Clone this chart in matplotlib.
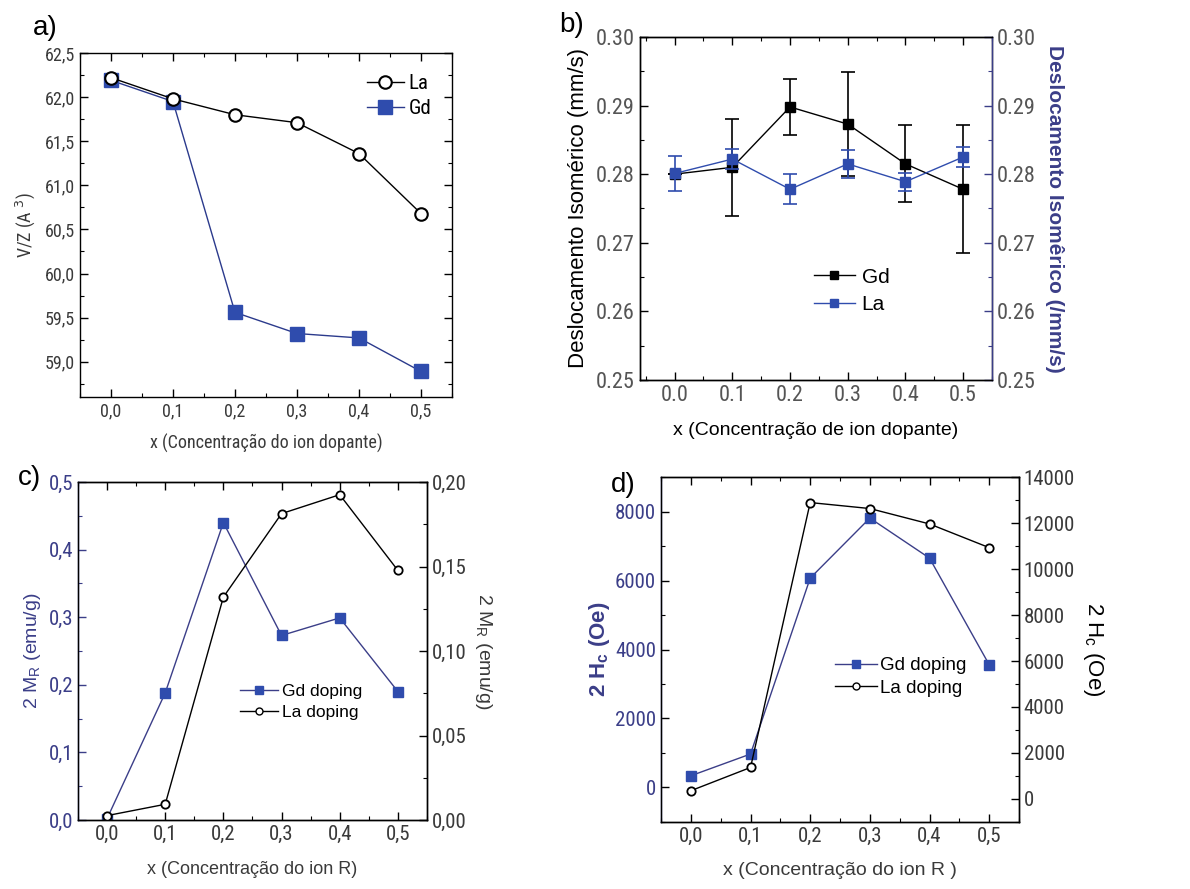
import matplotlib
matplotlib.use("Agg")
import matplotlib.pyplot as plt
from matplotlib import font_manager
from matplotlib.ticker import FuncFormatter, MultipleLocator
from matplotlib.lines import Line2D

# ---------------- data ----------------
x_conc = [0.0, 0.1, 0.2, 0.3, 0.4, 0.5]

# (a) volume per formula unit
vz_la = [62.22, 61.98, 61.80, 61.71, 61.36, 60.68]
vz_gd = [62.19, 61.95, 59.56, 59.32, 59.27, 58.89]

# (b) isomer shift with error bars
is_gd = [0.2800, 0.2810, 0.2898, 0.2873, 0.2815, 0.2778]
is_gd_err = [0.0000, 0.0071, 0.0041, 0.0076, 0.0056, 0.0093]
is_la = [0.2801, 0.2822, 0.2778, 0.2815, 0.2789, 0.2825]
is_la_err = [0.0026, 0.0014, 0.0022, 0.0020, 0.0013, 0.0015]

# (c) remanent magnetisation
mr_gd = [0.002, 0.188, 0.440, 0.273, 0.299, 0.190]
mr_la = [0.0026, 0.0093, 0.1319, 0.1813, 0.1925, 0.1477]

# (d) coercive field
hc_gd = [340, 970, 6070, 7810, 6650, 3560]
hc_la = [360, 1370, 12890, 12630, 11960, 10930]

# ---------------- style ----------------
installed = {f.name for f in font_manager.fontManager.ttflist}
narrow_choices = [n for n in ("Liberation Sans Narrow", "Roboto Condensed",
                              "DejaVu Sans Condensed") if n in installed]
NARROW_FAMILY = narrow_choices[0] if narrow_choices else "DejaVu Sans"
NARROW = dict(family=[NARROW_FAMILY, "DejaVu Sans"], stretch="condensed")
SANS = ["Liberation Sans", "DejaVu Sans"]
BLUE = "#2f4cad"
NAVY = "#3b3e88"
GRAY = "#3a3a3a"
LGRAY = "#555555"

plt.rcParams["font.family"] = SANS
plt.rcParams["axes.linewidth"] = 1.0

comma1 = FuncFormatter(lambda v, p: f"{v:.1f}".replace(".", ","))
comma2 = FuncFormatter(lambda v, p: f"{v:.2f}".replace(".", ","))
dot1 = FuncFormatter(lambda v, p: f"{v:.1f}")
dot2 = FuncFormatter(lambda v, p: f"{v:.2f}")
intf = FuncFormatter(lambda v, p: f"{int(round(v))}")


def style_ticks(ax, size, color, top=True, right=True, left=True):
    ax.tick_params(which="both", direction="in", top=top, right=right, left=left)
    ax.tick_params(which="major", length=6, width=1.0, labelsize=size, labelcolor=color)
    ax.tick_params(which="minor", length=3, width=0.8)


def narrow_ticklabels(ax):
    fig.canvas.draw()
    for lab in ax.get_xticklabels() + ax.get_yticklabels():
        lab.set_family(NARROW["family"])
        lab.set_stretch(NARROW["stretch"])


fig = plt.figure(figsize=(11.9, 8.89), dpi=100)

# ================= (a) =================
axa = fig.add_axes([0.0672, 0.5534, 0.3126, 0.3870])
axa.plot(x_conc, vz_la, "-o", color="black", lw=1.0, ms=9, mfc="white",
         mec="black", mew=1.5, label="La", zorder=3)
axa.plot(x_conc, vz_gd, "-s", color="#2b3a8c", lw=1.0, ms=10, mfc=BLUE,
         mec=BLUE, label="Gd", zorder=2)
axa.set_xlim(-0.05, 0.55)
axa.set_ylim(58.6, 62.5)
axa.xaxis.set_major_locator(MultipleLocator(0.1))
axa.xaxis.set_minor_locator(MultipleLocator(0.05))
axa.yaxis.set_major_locator(MultipleLocator(0.5))
axa.yaxis.set_minor_locator(MultipleLocator(0.25))
axa.xaxis.set_major_formatter(comma1)
axa.yaxis.set_major_formatter(comma1)
style_ticks(axa, 13, GRAY)
axa.set_xlabel("x (Concentração do ion dopante)", fontsize=13, color=GRAY,
               labelpad=10, **NARROW)
axa.set_ylabel("V/Z (A $^{3}$)", fontsize=13, color=GRAY, labelpad=6, **NARROW)
axa.legend(loc="upper right", frameon=False,
           prop={"family": NARROW["family"], "stretch": "condensed", "size": 15},
           handlelength=1.8, handletextpad=0.2, borderaxespad=0.6, labelspacing=0.3)
fig.text(0.028, 0.968, "a)", fontsize=20, va="center", ha="left")

# ================= (b) =================
axb = fig.add_axes([0.5378, 0.5726, 0.2958, 0.3858])
axb2 = axb.twinx()
axb.errorbar(x_conc, is_gd, yerr=is_gd_err, fmt="-s", color="black", lw=1.0,
             ms=7, elinewidth=1.2, capsize=5, capthick=1.2, zorder=3)
axb2.errorbar(x_conc, is_la, yerr=is_la_err, fmt="-s", color=BLUE, ecolor=BLUE,
              lw=1.0, ms=7, elinewidth=1.2, capsize=5, capthick=1.2, zorder=3)
for ax in (axb, axb2):
    ax.set_xlim(-0.06, 0.55)
    ax.set_ylim(0.25, 0.30)
    ax.yaxis.set_major_locator(MultipleLocator(0.01))
    ax.yaxis.set_minor_locator(MultipleLocator(0.005))
    ax.yaxis.set_major_formatter(dot2)
axb.xaxis.set_major_locator(MultipleLocator(0.1))
axb.xaxis.set_minor_locator(MultipleLocator(0.05))
axb.xaxis.set_major_formatter(dot1)
style_ticks(axb, 16, LGRAY, right=False)
style_ticks(axb2, 16, LGRAY, top=False, left=False)
axb2.spines["right"].set_color(NAVY)
axb2.tick_params(axis="y", which="both", color=NAVY)
axb.set_xlabel("x (Concentração de ion dopante)", fontsize=14, labelpad=12)
axb.set_ylabel("Deslocamento Isomérico (mm/s)", fontsize=16, labelpad=5)
axb2.set_ylabel("Deslocamento Isomêrico (/mm/s)", fontsize=15, color=NAVY,
                fontweight="bold", rotation=270, labelpad=20)
hb = [Line2D([], [], color="black", marker="s", ms=6, lw=1.0),
      Line2D([], [], color=BLUE, marker="s", ms=6, lw=1.0)]
axb.legend(hb, ["Gd", "La"], loc="center left", bbox_to_anchor=(0.44, 0.26),
           frameon=False, fontsize=15, handlelength=2.0, handletextpad=0.3,
           labelspacing=0.4)
fig.text(0.470, 0.972, "b)", fontsize=20, va="center", ha="left")

# ================= (c) =================
axc = fig.add_axes([0.0655, 0.0776, 0.2933, 0.3802])
axc2 = axc.twinx()
axc.plot(x_conc, mr_gd, "-s", color=NAVY, lw=1.0, ms=7, mfc=BLUE, mec=BLUE, zorder=2)
axc2.plot(x_conc, mr_la, "-o", color="black", lw=1.0, ms=6, mfc="white",
          mec="black", mew=1.3, zorder=3)
axc.set_xlim(-0.05, 0.55)
axc.set_ylim(0.0, 0.5)
axc2.set_ylim(0.0, 0.20)
axc.xaxis.set_major_locator(MultipleLocator(0.1))
axc.xaxis.set_minor_locator(MultipleLocator(0.05))
axc.yaxis.set_major_locator(MultipleLocator(0.1))
axc.yaxis.set_minor_locator(MultipleLocator(0.05))
axc2.yaxis.set_major_locator(MultipleLocator(0.05))
axc2.yaxis.set_minor_locator(MultipleLocator(0.025))
axc.xaxis.set_major_formatter(comma1)
axc.yaxis.set_major_formatter(comma1)
axc2.yaxis.set_major_formatter(comma2)
style_ticks(axc, 15, NAVY, right=False)
style_ticks(axc2, 15, GRAY, top=False, left=False)
axc.tick_params(axis="x", labelcolor=GRAY)
axc.spines["left"].set_color(NAVY)
axc.tick_params(axis="y", which="both", color=NAVY)
axc.set_xlabel("x (Concentração do ion R)", fontsize=13, color=GRAY, labelpad=12)
axc.set_ylabel("2 M$_{\\mathregular{R}}$ (emu/g)", fontsize=14, color=NAVY, labelpad=4)
axc2.set_ylabel("2 M$_{\\mathregular{R}}$ (emu/g)", fontsize=14, color=GRAY,
                rotation=270, labelpad=20)
hc = [Line2D([], [], color=NAVY, marker="s", ms=6, mfc=BLUE, mec=BLUE, lw=1.0),
      Line2D([], [], color="black", marker="o", ms=5, mfc="white", mec="black", lw=1.0)]
axc.legend(hc, ["Gd doping", "La doping"], loc="center left",
           bbox_to_anchor=(0.42, 0.35), frameon=False, fontsize=12.5,
           handlelength=2.2, handletextpad=0.2, labelspacing=0.35)
fig.text(0.015, 0.462, "c)", fontsize=20, va="center", ha="left")

# ================= (d) =================
axd = fig.add_axes([0.5555, 0.0754, 0.3008, 0.3880])
axd2 = axd.twinx()
axd.plot(x_conc, hc_gd, "-s", color=NAVY, lw=1.0, ms=7, mfc=BLUE, mec=BLUE, zorder=2)
axd2.plot(x_conc, hc_la, "-o", color="black", lw=1.0, ms=6, mfc="white",
          mec="black", mew=1.3, zorder=3)
axd.set_xlim(-0.05, 0.55)
axd.set_ylim(-1000, 9000)
axd2.set_ylim(-1000, 14000)
axd.xaxis.set_major_locator(MultipleLocator(0.1))
axd.xaxis.set_minor_locator(MultipleLocator(0.05))
axd.yaxis.set_major_locator(MultipleLocator(2000))
axd.yaxis.set_minor_locator(MultipleLocator(1000))
axd2.yaxis.set_major_locator(MultipleLocator(2000))
axd2.yaxis.set_minor_locator(MultipleLocator(1000))
axd.xaxis.set_major_formatter(comma1)
axd.yaxis.set_major_formatter(intf)
axd2.yaxis.set_major_formatter(intf)
style_ticks(axd, 15, NAVY, right=False)
style_ticks(axd2, 15, GRAY, top=False, left=False)
axd.tick_params(axis="x", labelcolor=GRAY)
axd.spines["left"].set_color(NAVY)
axd.set_xlabel("x (Concentração do ion R )", fontsize=14, color=GRAY, labelpad=12)
axd.set_ylabel("2 H$_{\\mathregular{c}}$ (Oe)", fontsize=16, color=NAVY,
               fontweight="bold", labelpad=2)
axd2.set_ylabel("2 H$_{\\mathregular{c}}$ (Oe)", fontsize=16, color="black",
                rotation=270, labelpad=22)
hd = [Line2D([], [], color=NAVY, marker="s", ms=6, mfc=BLUE, mec=BLUE, lw=1.0),
      Line2D([], [], color="black", marker="o", ms=5, mfc="white", mec="black", lw=1.0)]
axd.legend(hd, ["Gd doping", "La doping"], loc="center left",
           bbox_to_anchor=(0.44, 0.42), frameon=False, fontsize=13.5,
           handlelength=2.2, handletextpad=0.2, labelspacing=0.3)
fig.text(0.513, 0.455, "d)", fontsize=20, va="center", ha="left")

for ax in (axa, axb, axb2, axc, axc2, axd, axd2):
    narrow_ticklabels(ax)

fig.savefig("out.png", dpi=100)
